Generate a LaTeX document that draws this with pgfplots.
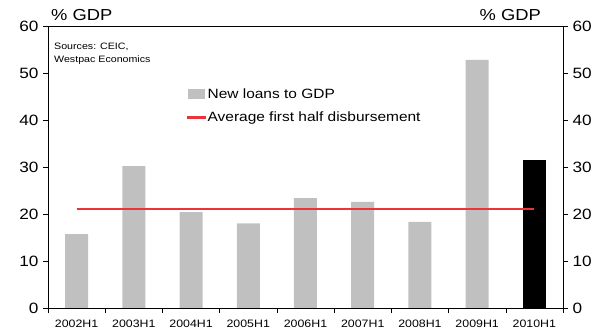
\documentclass[border=0pt]{standalone}
\usepackage{pgfplots}
\pgfplotsset{compat=1.18}
\usepackage{fontspec}
\setmainfont[FakeStretch=1.15]{Liberation Sans}
\definecolor{bargray}{RGB}{192,192,192}
\definecolor{avgred}{RGB}{232,52,58}
\begin{document}
\begin{tikzpicture}
\path[use as bounding box] (-48bp,-25bp) rectangle (560bp,308bp);
\begin{axis}[
  name=ax,
  scale only axis,
  width=515bp, height=282bp,
  xmin=-0.5, xmax=8.5,
  ymin=0, ymax=60,
  ytick={0,10,...,60},
  ytick pos=left,
  xtick={0,...,8},
  xticklabels={2002H1,2003H1,2004H1,2005H1,2006H1,2007H1,2008H1,2009H1,2010H1},
  xtick pos=bottom,
  major x tick style={draw=none},
  minor xtick={-0.5,0.5,...,8.5},
  minor tick length=5bp,
  major tick length=5bp,
  tick align=outside,
  tick style={black, thin},
  axis line style={black, thin},
  /pgf/number format/assume math mode=true,
  yticklabel style={font=\fontsize{15}{17}\selectfont, xshift=-1bp},
  xticklabel style={font=\fontsize{10.8}{12}\selectfont, yshift=-3bp},
  ybar, bar width=23bp, bar shift=0pt,
  legend style={draw=none, fill=none, at={(axis description cs:0.27,0.785)}, anchor=north west,
    font=\fontsize{13.5}{15}\selectfont, row sep=8bp, inner sep=0pt},
  legend cell align=left,
]
\addplot[fill=bargray, draw=none, area legend,
  legend image code/.code={\fill[bargray] (0bp,-5bp) rectangle (17bp,5bp);}]
  coordinates {(0,15.7) (1,30.2) (2,20.4) (3,18.0) (4,23.4) (5,22.6) (6,18.3) (7,52.8)};
\addlegendentry{New loans to GDP}
\addplot[fill=black, draw=none, forget plot] coordinates {(8,31.5)};
\addplot[sharp plot, draw=avgred, line width=1.4bp, mark=none,
  legend image code/.code={\fill[avgred] (0bp,-0.7bp) rectangle (17bp,0.7bp);}]
  coordinates {(0,21.1) (8,21.1)};
\addlegendentry{Average first half disbursement}
\end{axis}
\begin{axis}[
  scale only axis,
  width=515bp, height=282bp,
  xmin=-0.5, xmax=8.5,
  ymin=0, ymax=60,
  ytick={0,10,...,60},
  ytick pos=right,
  yticklabel pos=right,
  xtick=\empty,
  axis x line=none,
  axis y line*=right,
  tick align=outside,
  major tick length=5bp,
  tick style={black, thin},
  axis line style={black, thin},
  /pgf/number format/assume math mode=true,
  yticklabel style={font=\fontsize{15}{17}\selectfont, xshift=1bp},
]
\addplot[draw=none, forget plot] coordinates {(0,0)};
\end{axis}
\node[anchor=south west, inner sep=0pt, font=\fontsize{16}{18}\selectfont] at ([xshift=3bp,yshift=5bp]ax.north west) {\% GDP};
\node[anchor=south east, inner sep=0pt, font=\fontsize{16}{18}\selectfont] at ([xshift=-22bp,yshift=5bp]ax.north east) {\% GDP};
\node[anchor=north west, inner sep=0pt, align=left, font=\fontsize{9.3}{13}\selectfont] at ([xshift=6bp,yshift=-17bp]ax.north west) {Sources: CEIC,\\Westpac Economics};
\end{tikzpicture}
\end{document}
